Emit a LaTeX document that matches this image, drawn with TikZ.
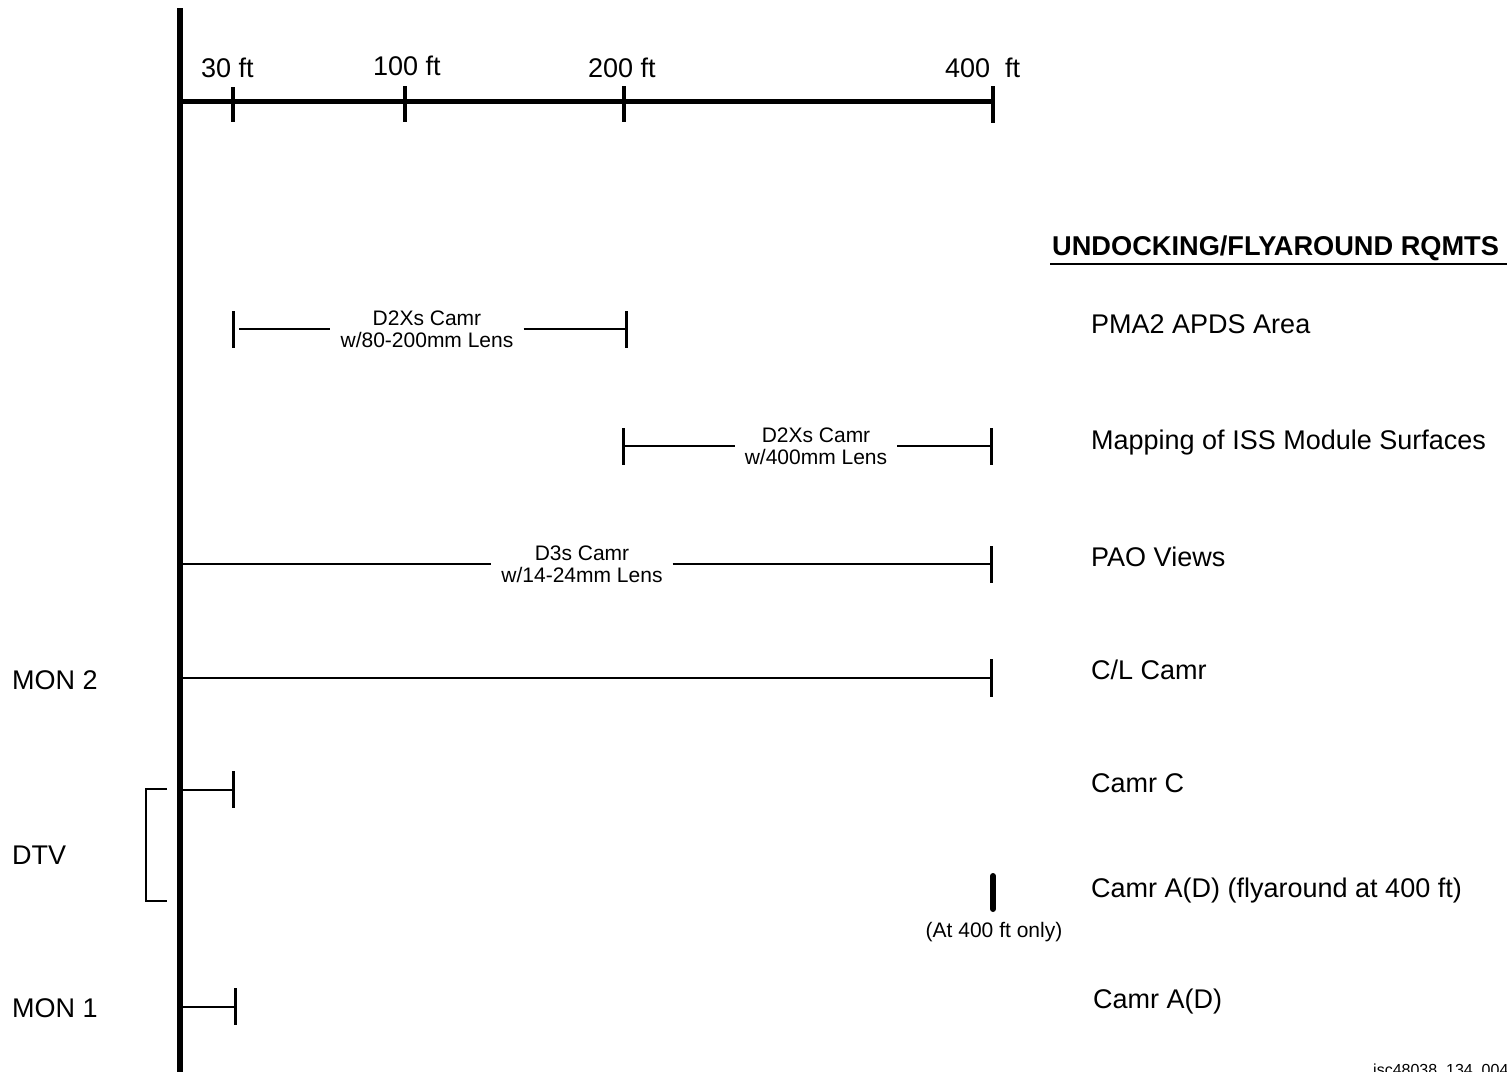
\documentclass[tikz,border=0pt]{standalone}
\usepackage{fontspec}
\setmainfont{Liberation Sans}
\begin{document}
\begin{tikzpicture}[x=1pt,y=-1pt,
  mainaxis/.style={line width=5.5pt},
  haxis/.style={line width=5pt},
  axtick/.style={line width=4pt},
  bar/.style={line width=2.6pt},
  bartick/.style={line width=3pt},
  big/.style={font=\fontsize{27}{32}\selectfont, inner sep=0pt, anchor=base west},
  bigbold/.style={font=\bfseries\fontsize{27.2}{32}\selectfont, inner sep=0pt, anchor=base west},
  small/.style={font=\fontsize{21}{22}\selectfont, align=center, inner xsep=10pt, inner ysep=0pt},
  note/.style={font=\fontsize{21}{22}\selectfont, inner sep=0pt, anchor=base},
  foot/.style={font=\fontsize{16}{18}\selectfont, inner sep=0pt, anchor=base west}
]
\useasboundingbox (0,0) rectangle (1507,1071);

% main axes
\coordinate (vtop) at (180,8);
\coordinate (vbot) at (180,1080);
\draw[mainaxis] (vtop) -- (vbot);
\coordinate (h0) at (180,101);
\coordinate (h400) at (993,101);
\draw[haxis] (h0) -- (h400);

% ticks
\draw[axtick] (233,87) -- (233,122);
\draw[axtick] (405,86) -- (405,122);
\draw[axtick] (624,86) -- (624,122);
\draw[axtick] (993,86) -- (993,123);

% distance labels
\node[big] (d30) at (201,77) {30 ft};
\node[big] (d100) at (373,75) {100 ft};
\node[big] (d200) at (588,77) {200 ft};
\node[big] (d400) at (945,77) {400\ \ ft};

% title
\node[bigbold] (title) at (1052,255) {UNDOCKING/FLYAROUND RQMTS};
\coordinate (ulA) at (1050,264);
\coordinate (ulB) at (1507,264);
\draw[bar] (ulA) -- (ulB);

% row 1
\coordinate (r1a) at (239,329);
\coordinate (r1b) at (626,329);
\node[small] (l1) at (427,329) {D2Xs Camr\\w/80-200mm Lens};
\draw[bar] (r1a) -- (l1.west);
\draw[bar] (l1.east) -- (r1b);
\draw[bartick] (233,311) -- (233,348);
\draw[bartick] (626,311) -- (626,348);

% row 2
\coordinate (r2a) at (623,446);
\coordinate (r2b) at (991,446);
\node[small] (l2) at (816,446) {D2Xs Camr\\w/400mm Lens};
\draw[bar] (r2a) -- (l2.west);
\draw[bar] (l2.east) -- (r2b);
\draw[bartick] (623,428) -- (623,465);
\draw[bartick] (991,428) -- (991,465);

% row 3
\coordinate (r3a) at (180,564);
\coordinate (r3b) at (991,564);
\node[small] (l3) at (582,564) {D3s Camr\\w/14-24mm Lens};
\draw[bar] (r3a) -- (l3.west);
\draw[bar] (l3.east) -- (r3b);
\draw[bartick] (991,546) -- (991,583);

% row 4
\coordinate (r4a) at (180,678);
\coordinate (r4b) at (991,678);
\draw[bar] (r4a) -- (r4b);
\draw[bartick] (991,659) -- (991,697);

% row 5
\coordinate (r5a) at (180,790);
\coordinate (r5b) at (233,790);
\draw[bar] (r5a) -- (r5b);
\draw[bartick] (233,771) -- (233,808);

% row 6 mark
\coordinate (m6a) at (993,876);
\coordinate (m6b) at (993,909);
\draw[line width=6pt, line cap=round] (m6a) -- (m6b);
\node[note] (only) at (994,937) {(At 400 ft only)};

% row 7
\coordinate (r7a) at (180,1007);
\coordinate (r7b) at (235,1007);
\draw[bar] (r7a) -- (r7b);
\draw[bartick] (235,988) -- (235,1025);

% DTV bracket
\draw[bar] (167,789) -- (146,789) -- (146,901) -- (167,901);

% right labels
\node[big] (q1) at (1091,333) {PMA2 APDS Area};
\node[big] (q2) at (1091,449) {Mapping of ISS Module Surfaces};
\node[big] (q3) at (1091,566) {PAO Views};
\node[big] (q4) at (1091,679) {C/L Camr};
\node[big] (q5) at (1091,792) {Camr C};
\node[big] (q6) at (1091,897) {Camr A(D) (flyaround at 400 ft)};
\node[big] (q7) at (1093,1008) {Camr A(D)};

% left labels
\node[big] (mon2) at (12,689) {MON 2};
\node[big] (dtv) at (12,864) {DTV};
\node[big] (mon1) at (12,1017) {MON 1};

% footer (cut off at the lower edge, as in the reference)
\node[foot] (jsc) at (1373,1075) {jsc48038\_134\_004};
\end{tikzpicture}
\end{document}
